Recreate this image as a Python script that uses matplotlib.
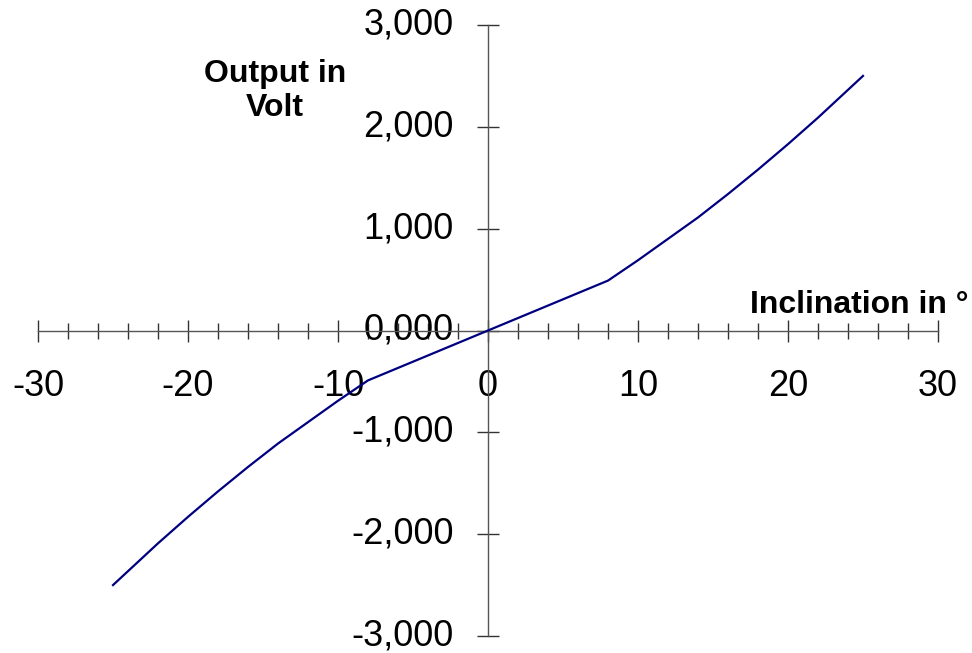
import matplotlib
matplotlib.use("Agg")
import matplotlib.pyplot as plt
from matplotlib.ticker import MultipleLocator, FuncFormatter

# Data (inclination in degrees, output in volt)
inclination = [-25, -22, -20, -18, -16, -14, -12, -10, -8, 0,
               8, 10, 12, 14, 16, 18, 20, 22, 25]
output = [-2.50, -2.09, -1.83, -1.58, -1.34, -1.11, -0.90, -0.69, -0.49, 0.0,
          0.49, 0.69, 0.90, 1.11, 1.34, 1.58, 1.83, 2.09, 2.50]

x_ticks = [-30, -20, -10, 0, 10, 20, 30]
y_ticks = [-3, -2, -1, 0, 1, 2, 3]
y_label_lines = ["Output in", "Volt"]
x_label = "Inclination in °"

plt.rcParams['font.family'] = ['Liberation Sans', 'DejaVu Sans']

fig = plt.figure(figsize=(9.72, 6.53), dpi=100)
ax = fig.add_axes([38/972, 17/653, 900/972, 611/653])

ax.plot(inclination, output, color='#000080', linewidth=1.6, zorder=3)

ax.set_xlim(-30, 30)
ax.set_ylim(-3, 3)

for s in ['top', 'right']:
    ax.spines[s].set_visible(False)
for s in ['left', 'bottom']:
    ax.spines[s].set_position(('data', 0))
    ax.spines[s].set_color('#555555')
    ax.spines[s].set_linewidth(1.0)

ax.set_xticks(x_ticks)
ax.xaxis.set_minor_locator(MultipleLocator(2))
ax.set_yticks(y_ticks)
ax.xaxis.set_major_formatter(FuncFormatter(lambda v, p: f"{v:.0f}"))
ax.yaxis.set_major_formatter(FuncFormatter(lambda v, p: f"{v:.3f}".replace('.', ',')))

ax.tick_params(axis='x', which='major', direction='inout', length=15.8, width=1.0,
               color='#333333', labelsize=26, pad=20)
ax.tick_params(axis='x', which='minor', direction='inout', length=12.2, width=1.0,
               color='#333333')
ax.tick_params(axis='y', which='major', direction='inout', length=15.8, width=1.0,
               color='#333333', labelsize=26, pad=17)
for t in ax.get_yticklabels():
    t.set_verticalalignment('center')

fig.text(275/972, (653-82)/653, y_label_lines[0], ha='center', va='baseline',
         fontsize=23, fontweight='bold')
fig.text(275/972, (653-116)/653, y_label_lines[1], ha='center', va='baseline',
         fontsize=23, fontweight='bold')
fig.text(968/972, (653-313)/653, x_label, ha='right', va='baseline',
         fontsize=23, fontweight='bold')

fig.savefig("out.png", dpi=100)
